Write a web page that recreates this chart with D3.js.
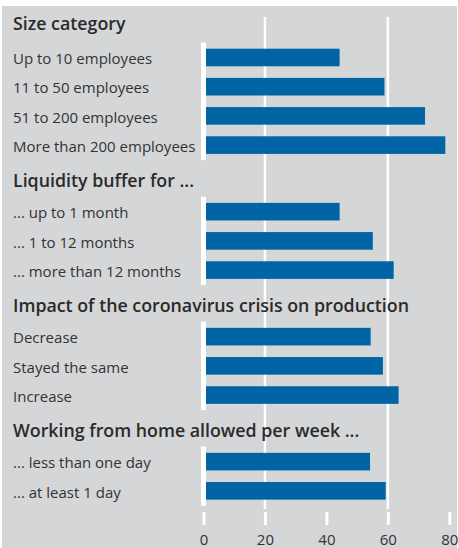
<!DOCTYPE html>
<html>
<head>
<meta charset="utf-8">
<script src="https://cdn.jsdelivr.net/npm/d3@7"></script>
<style>
  html, body { margin: 0; padding: 0; background: #fff; }
  svg { display: block; font-family: 'Open Sans', sans-serif; }
</style>
</head>
<body>
<svg id="chart"></svg>
<script>
WIDTH = 458;
HEIGHT = 548;

const groupTitles = [
  'Size category',
  'Liquidity buffer for ...',
  'Impact of the coronavirus crisis on production',
  'Working from home allowed per week ...',
];

const sizeLabels = ['Up to 10 employees', '11 to 50 employees', '51 to 200 employees', 'More than 200 employees'];
const sizeValues = [44.3, 58.9, 72.1, 78.7];

const liquidityLabels = ['... up to 1 month', '... 1 to 12 months', '... more than 12 months'];
const liquidityValues = [44.3, 55.1, 61.9];

const impactLabels = ['Decrease', 'Stayed the same', 'Increase'];
const impactValues = [54.4, 58.4, 63.5];

const homeLabels = ['... less than one day', '... at least 1 day'];
const homeValues = [54.2, 59.3];

const xTicks = [0, 20, 40, 60, 80];
const gridValues = [20, 60];

const BAR_COLOR = '#0064a5';
const BG_COLOR = '#d5d6d8';
const TEXT_COLOR = '#333333';

function buildGroups() {
  const labels = [sizeLabels, liquidityLabels, impactLabels, homeLabels];
  const values = [sizeValues, liquidityValues, impactValues, homeValues];
  return groupTitles.map((title, i) => ({
    title: title,
    rows: labels[i].map((label, j) => ({label: label, value: values[i][j]})),
  }));
}

function drawChart() {
  const groups = buildGroups();

  // layout in "row slots"
  const rowStep = 29.2;
  const slotY = (s) => 28.3 + rowStep * s;
  let slot = 1;
  groups.forEach((grp, i) => {
    grp.titleSlot = slot - (i === 0 ? 0.95 : 0.83);
    grp.rows.forEach((row) => {
      row.slot = slot;
      slot += 1;
    });
    slot += 1.28;
  });

  const x = d3.scaleLinear().domain([0, 80]).range([203.5, 449.3]);

  const svg = d3.select('#chart').attr('width', WIDTH).attr('height', HEIGHT);

  svg.append('rect')
    .attr('x', 2)
    .attr('y', 6)
    .attr('width', WIDTH - 3)
    .attr('height', HEIGHT - 6)
    .attr('fill', BG_COLOR);

  // gridlines
  svg.selectAll('.grid')
    .data(gridValues)
    .join('line')
    .attr('class', 'grid')
    .attr('x1', (d) => x(d))
    .attr('x2', (d) => x(d))
    .attr('y1', 17)
    .attr('y2', 509)
    .attr('stroke', '#fff')
    .attr('stroke-width', 2.5);

  const g = svg.selectAll('.group')
    .data(groups)
    .join('g')
    .attr('class', 'group');

  g.append('text')
    .attr('x', 13)
    .attr('y', (d) => slotY(d.titleSlot))
    .attr('font-size', 17.8)
    .attr('font-weight', 600)
    .attr('fill', '#2a2a2a')
    .text((d) => d.title);

  g.selectAll('.bar')
    .data((d) => d.rows)
    .join('rect')
    .attr('class', 'bar')
    .attr('x', x(0))
    .attr('y', (d) => slotY(d.slot) - 8.8)
    .attr('width', (d) => x(d.value) - x(0))
    .attr('height', 17.6)
    .attr('fill', BAR_COLOR);

  g.selectAll('.label')
    .data((d) => d.rows)
    .join('text')
    .attr('class', 'label')
    .attr('x', 13)
    .attr('y', (d) => slotY(d.slot) + 6.7)
    .attr('font-size', 15)
    .attr('fill', TEXT_COLOR)
    .text((d) => d.label);

  // white zero line per group
  g.append('rect')
    .attr('x', x(0) - 2.5)
    .attr('y', (d) => slotY(d.rows[0].slot) - 15)
    .attr('width', 5)
    .attr('height', (d) => slotY(d.rows[d.rows.length - 1].slot) - slotY(d.rows[0].slot) + 30)
    .attr('fill', '#fff');

  // x axis
  const axis = svg.append('g')
    .attr('transform', 'translate(0, 512)')
    .call(d3.axisBottom(x).tickValues(xTicks).tickSize(13));
  axis.select('.domain').remove();
  axis.selectAll('.tick line').attr('stroke', '#fff').attr('stroke-width', 3);
  axis.selectAll('.tick text')
    .attr('y', 33)
    .attr('dy', 0)
    .attr('font-family', 'Open Sans, sans-serif')
    .attr('font-size', 15)
    .attr('fill', TEXT_COLOR);
}

drawChart();
</script>
</body>
</html>
